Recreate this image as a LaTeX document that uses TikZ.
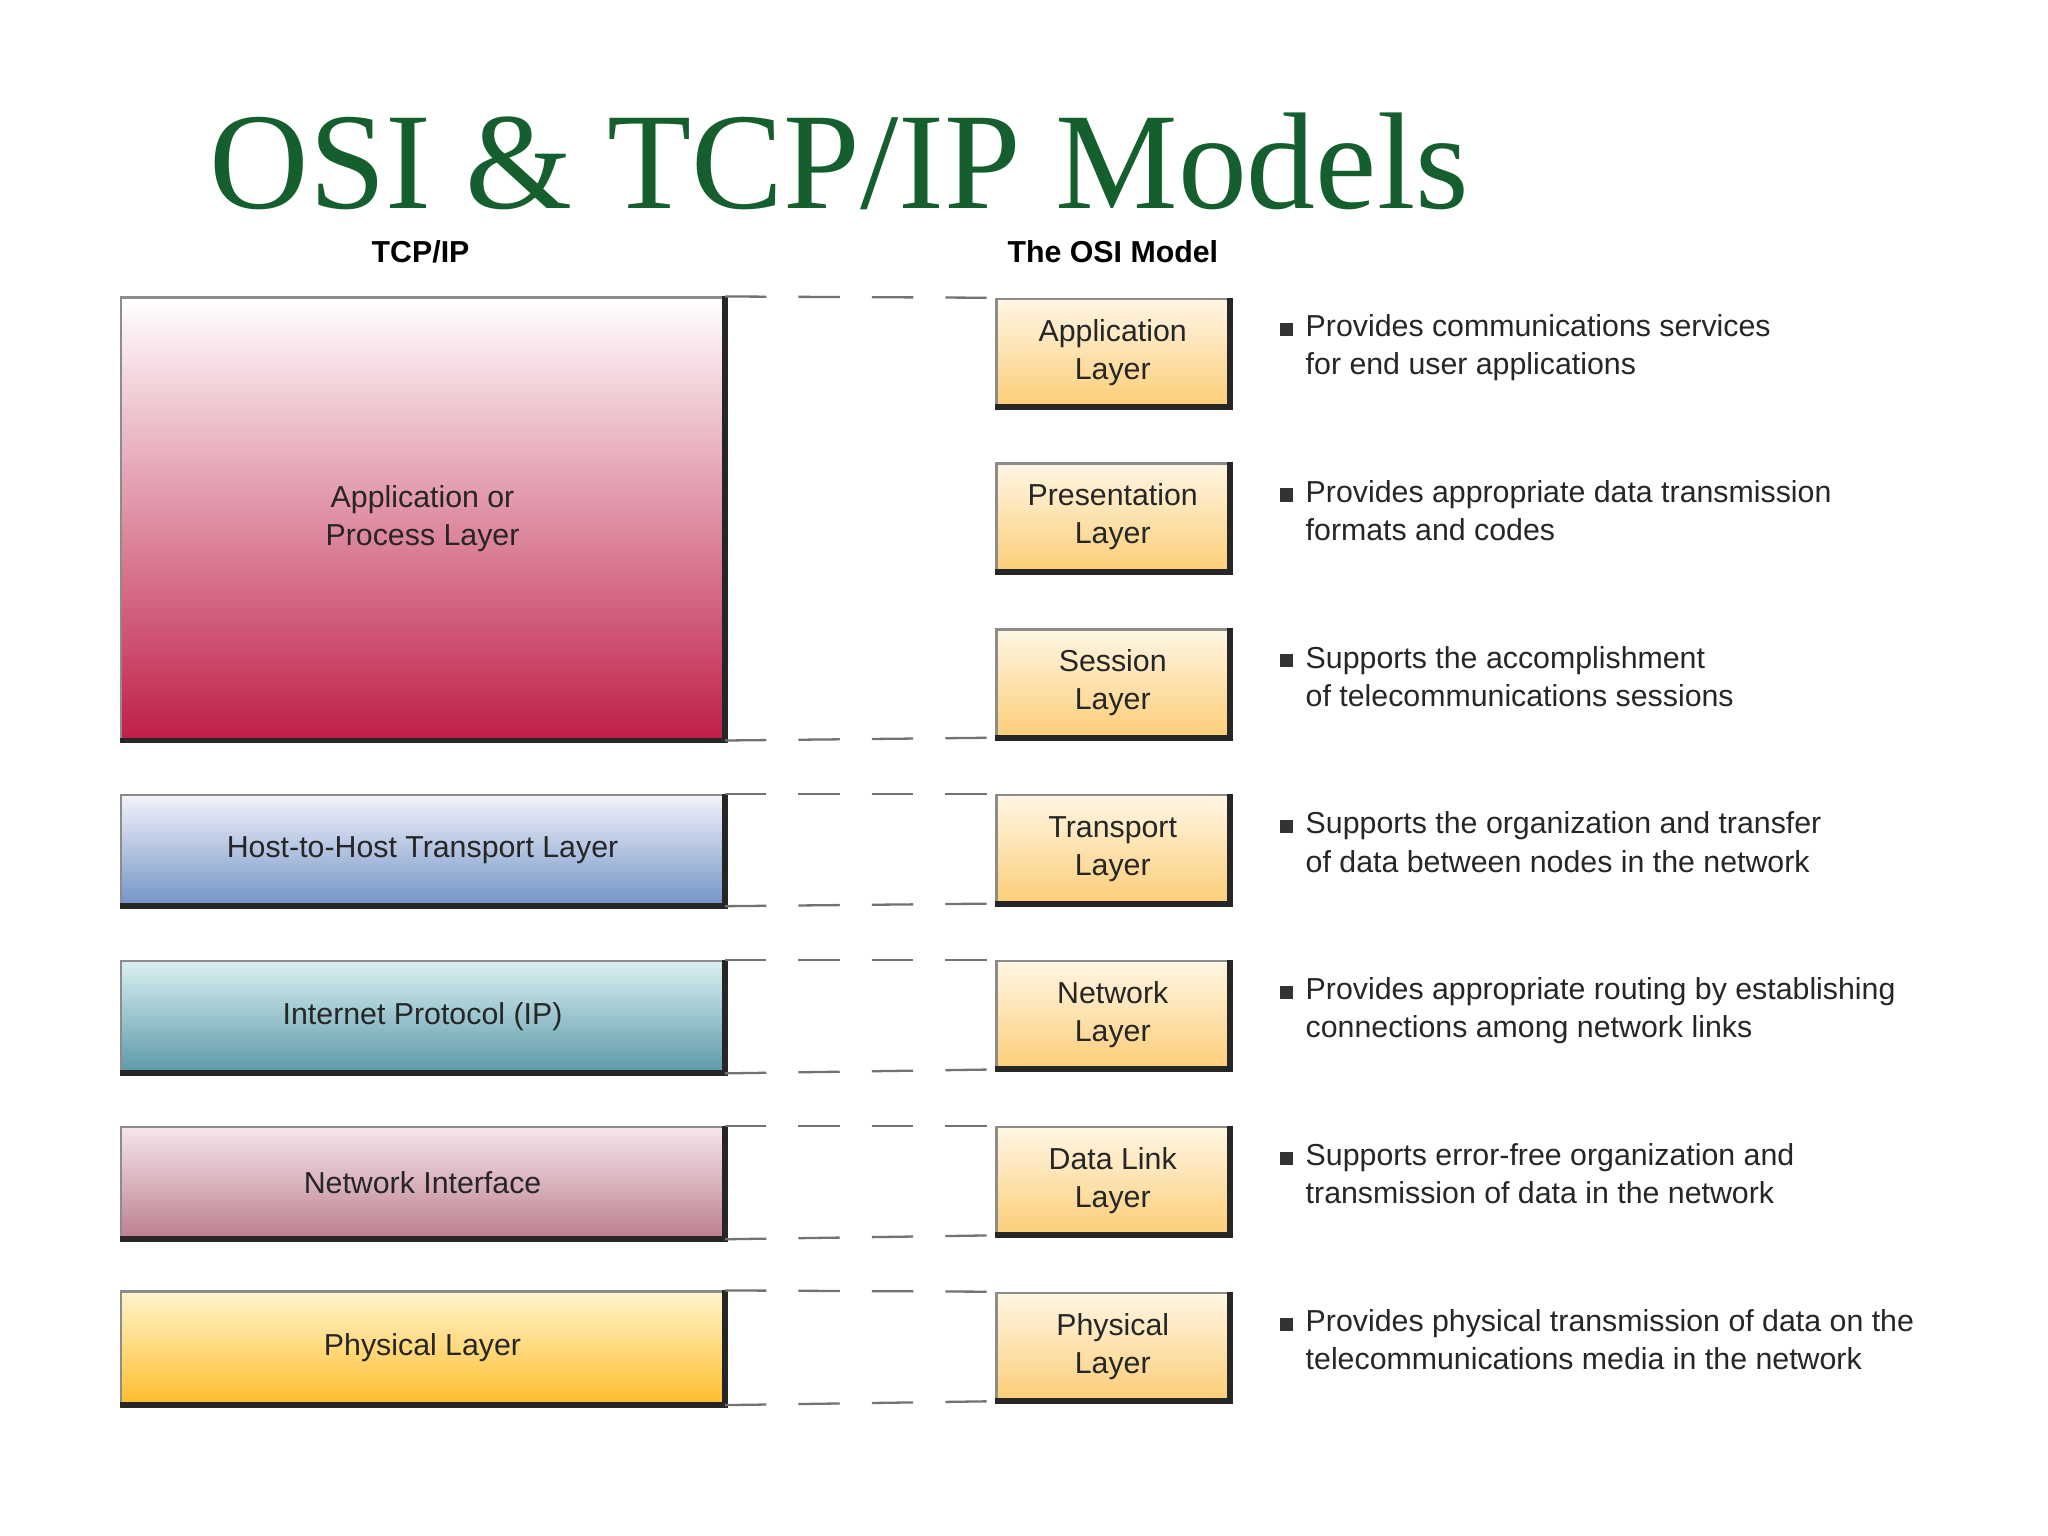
\documentclass[tikz,border=0pt]{standalone}
\usepackage{fontspec}
\setmainfont{Liberation Sans}
\newfontfamily\titlefont{Liberation Serif}
\definecolor{titlegreen}{RGB}{20,95,45}
\definecolor{oc}{RGB}{252,206,120}
\definecolor{octop}{RGB}{255,246,228}
\begin{document}
\begin{tikzpicture}[x=0.01cm,y=-0.01cm,
  txt/.style={font=\fontsize{6.6}{8.3}\selectfont,text=black!85,align=center},
  box/.style={draw=black!45,line width=0.5pt,inner sep=0pt,txt},
  tcp/.style={box,minimum width=4.61cm,anchor=north west},
  osi/.style={box,top color=octop,bottom color=oc,minimum width=1.78cm,minimum height=0.82cm,anchor=north west},
  dsh/.style={dashed,dash pattern=on 9pt off 7pt,draw=black!55,line width=0.5pt},
  desc/.style={txt,align=left,anchor=north west},
  edge/.style={draw=black!85,line width=1.3pt}]
\useasboundingbox[fill=white] (0,0) rectangle (1568,1176);
\node[font=\titlefont\fontsize{30}{30}\selectfont,text=titlegreen,anchor=base west] (title) at (148,160) {OSI \& TCP/IP Models};
\node[font=\bfseries\fontsize{6.6}{8}\selectfont] (h1) at (322,193) {TCP/IP};
\node[font=\bfseries\fontsize{6.6}{8}\selectfont] (h2) at (852,193) {The OSI Model};
% TCP/IP
\node[tcp,minimum height=3.38cm,top color=white,bottom color={rgb,1:red,0.75;green,0.12;blue,0.28}] (t1) at (92,227) {Application or\\Process Layer};
\node[tcp,minimum height=0.84cm,top color={rgb,1:red,0.95;green,0.95;blue,0.98},bottom color={rgb,1:red,0.45;green,0.58;blue,0.78}] (t2) at (92,608) {Host-to-Host Transport Layer};
\node[tcp,minimum height=0.85cm,top color={rgb,1:red,0.85;green,0.94;blue,0.95},bottom color={rgb,1:red,0.36;green,0.6;blue,0.66}] (t3) at (92,735) {Internet Protocol (IP)};
\node[tcp,minimum height=0.85cm,top color={rgb,1:red,0.96;green,0.9;blue,0.92},bottom color={rgb,1:red,0.74;green,0.5;blue,0.56}] (t4) at (92,862) {Network Interface};
\node[tcp,minimum height=0.86cm,top color={rgb,1:red,1;green,0.96;blue,0.8},bottom color={rgb,1:red,1;green,0.74;blue,0.18}] (t5) at (92,988) {Physical Layer};
% OSI
\foreach \n/\y/\t in {o1/228/Application,o2/354/Presentation,o3/481/Session,o4/608/Transport,o5/735/Network,o6/862/Data Link,o7/989/Physical}
  \node[osi] (\n) at (762,\y) {\t\\Layer};
\foreach \n in {t1,t2,t3,t4,t5,o1,o2,o3,o4,o5,o6,o7}
  \draw[edge] (\n.south west) -- (\n.south east) -- (\n.north east);
% dashed
\draw[dsh] (t1.north east) -- (o1.north west);
\draw[dsh] (t1.south east) -- (o3.south west);
\draw[dsh] (t2.north east) -- (o4.north west);
\draw[dsh] (t2.south east) -- (o4.south west);
\draw[dsh] (t3.north east) -- (o5.north west);
\draw[dsh] (t3.south east) -- (o5.south west);
\draw[dsh] (t4.north east) -- (o6.north west);
\draw[dsh] (t4.south east) -- (o6.south west);
\draw[dsh] (t5.north east) -- (o7.north west);
\draw[dsh] (t5.south east) -- (o7.south west);
% descriptions
\foreach \n/\y/\a/\b in {
 d1/240/Provides communications services/for end user applications,
 d2/367/Provides appropriate data transmission/formats and codes,
 d3/494/Supports the accomplishment/of telecommunications sessions,
 d4/621/Supports the organization and transfer/of data between nodes in the network,
 d5/748/Provides appropriate routing by establishing/connections among network links,
 d6/875/Supports error-free organization and/transmission of data in the network,
 d7/1002/Provides physical transmission of data on the/telecommunications media in the network}{
  \node[desc,inner sep=0pt] (\n) at (999,\y) {\a\\\b};
  \fill[black!80] (980,\y+7) rectangle (990,\y+17);
}
\end{tikzpicture}
\end{document}
